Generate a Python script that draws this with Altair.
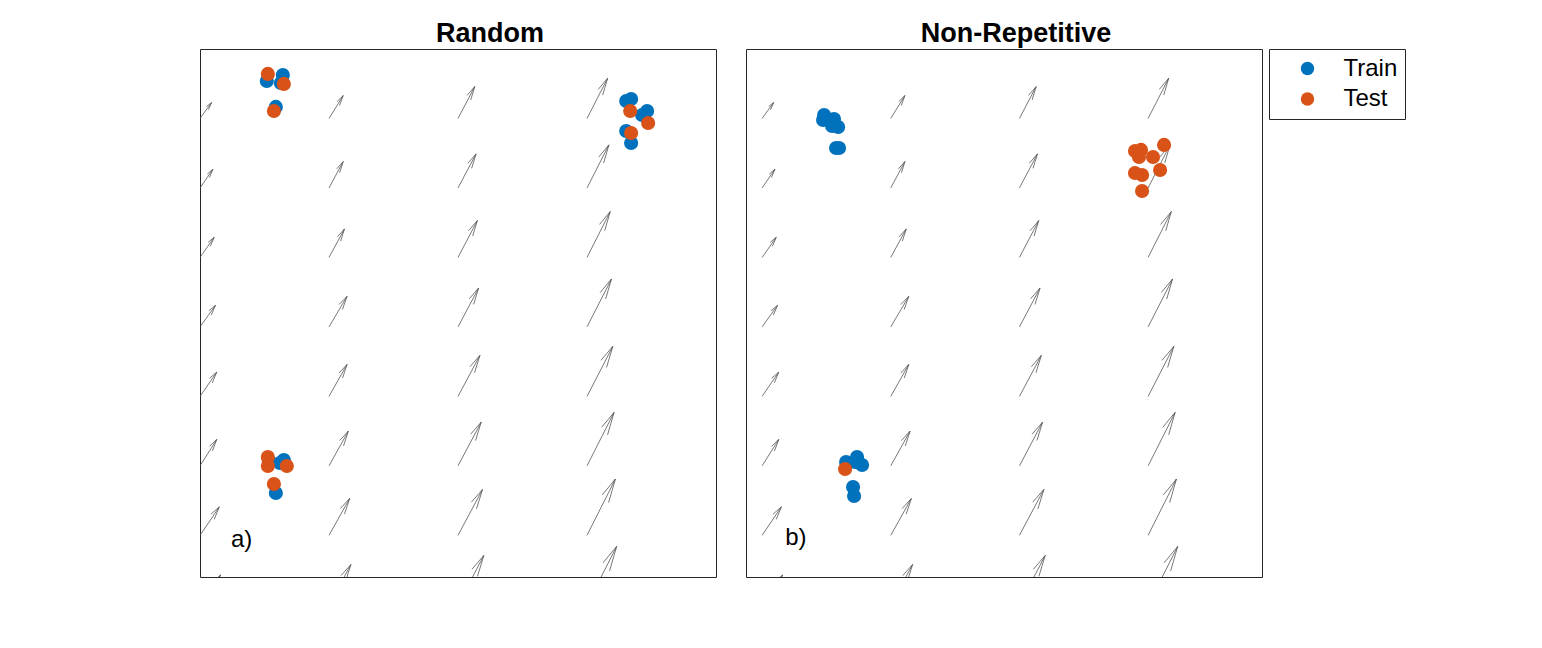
import altair as alt
import pandas as pd

# ---------------- data ----------------
# quiver grid (same vector field in both panels)
QX = [1, 2, 3, 4]
QY = [7, 6, 5, 4, 3, 2, 1, 0]
# U[col][row], V[col][row]; rows ordered as QY
U = [
    [0.09, 0.10, 0.11, 0.12, 0.13, 0.13, 0.15, 0.16],
    [0.11, 0.11, 0.12, 0.14, 0.14, 0.15, 0.16, 0.17],
    [0.13, 0.14, 0.15, 0.16, 0.17, 0.18, 0.19, 0.20],
    [0.16, 0.17, 0.18, 0.19, 0.20, 0.21, 0.22, 0.23],
]
V = [
    [0.23, 0.27, 0.29, 0.31, 0.35, 0.38, 0.41, 0.43],
    [0.33, 0.38, 0.41, 0.44, 0.46, 0.50, 0.53, 0.58],
    [0.46, 0.49, 0.53, 0.56, 0.59, 0.63, 0.66, 0.71],
    [0.58, 0.62, 0.66, 0.69, 0.72, 0.77, 0.81, 0.84],
]

# Panel a) Random
A_TRAIN_X = [1.518, 1.642, 1.627, 1.588, 4.304, 4.342, 4.466, 4.427, 4.304, 4.342, 1.534, 1.650, 1.619, 1.588]
A_TRAIN_Y = [7.540, 7.626, 7.511, 7.166, 7.252, 7.281, 7.108, 7.050, 6.820, 6.647, 2.070, 2.084, 2.041, 1.609]
A_TEST_X = [1.526, 1.650, 1.573, 4.335, 4.474, 4.342, 1.526, 1.526, 1.673, 1.573]
A_TEST_Y = [7.641, 7.497, 7.108, 7.108, 6.935, 6.791, 2.127, 1.998, 1.998, 1.739]

# Panel b) Non-Repetitive
B_TRAIN_X = [1.482, 1.474, 1.559, 1.544, 1.591, 1.575, 1.598, 1.653, 1.738, 1.777, 1.723, 1.707, 1.715]
B_TRAIN_Y = [7.050, 6.978, 6.993, 6.892, 6.878, 6.575, 6.575, 2.055, 2.127, 2.012, 2.055, 1.696, 1.566]
B_TEST_X = [3.898, 3.945, 3.929, 4.038, 4.124, 3.898, 3.953, 4.093, 3.953, 1.645]
B_TEST_Y = [6.532, 6.547, 6.446, 6.446, 6.619, 6.215, 6.187, 6.259, 5.956, 1.955]

SERIES = ["Train", "Test"]
COLORS = ["#0072BD", "#D95319"]

TITLES = ["Random", "Non-Repetitive"]
TITLE_DX = [32, 12]
LABELS = ["a)", "b)"]
LABEL_POS = [(1.24, 0.83), (1.18, 0.86)]

X_DOMAINS = [(1.0, 5.0), (0.875, 4.885)]
Y_DOMAIN = (0.4, 8.0)

W, H = 516, 528
# quiver head shape (fraction of length, spread, aspect skew)
HA, HB, HR = 0.35, 0.25, 0.64

FONT = "Liberation Sans"


def arrows_df(xdom):
    sx = W / (xdom[1] - xdom[0])
    sy = H / (Y_DOMAIN[1] - Y_DOMAIN[0])
    rows = []
    for i, x in enumerate(QX):
        for j, y in enumerate(QY):
            u, v = U[i][j], V[i][j]
            tx, ty = x + u, y + v
            rows.append({"x": x, "y": y, "x2": tx, "y2": ty})
            up, vp = u * sx, v * sy
            for s in (1, -1):
                hx = -HA * (up + s * HB * HR * vp)
                hy = -HA * (vp - s * HB / HR * up)
                rows.append({"x": tx, "y": ty, "x2": tx + hx / sx, "y2": ty + hy / sy})
    return pd.DataFrame(rows)


def points_df(trx, try_, tex, tey):
    d1 = pd.DataFrame({"x": trx, "y": try_, "Set": "Train", "o": 0})
    d2 = pd.DataFrame({"x": tex, "y": tey, "Set": "Test", "o": 1})
    return pd.concat([d1, d2], ignore_index=True)


def panel(idx, pts):
    xdom = X_DOMAINS[idx]
    xs = alt.Scale(domain=list(xdom), nice=False, zero=False)
    ys = alt.Scale(domain=list(Y_DOMAIN), nice=False, zero=False)

    arrows = alt.Chart(arrows_df(xdom)).mark_rule(
        clip=True, color="#555555", strokeWidth=0.8
    ).encode(
        x=alt.X("x:Q", scale=xs, axis=None),
        y=alt.Y("y:Q", scale=ys, axis=None),
        x2="x2:Q",
        y2="y2:Q",
    )

    points = alt.Chart(pts).mark_circle(size=200, opacity=1).encode(
        x=alt.X("x:Q", scale=xs, axis=None),
        y=alt.Y("y:Q", scale=ys, axis=None),
        color=alt.Color(
            "Set:N",
            scale=alt.Scale(domain=SERIES, range=COLORS),
            legend=alt.Legend(title=None),
        ),
        order=alt.Order("o:Q"),
    )

    lx, ly = LABEL_POS[idx]
    label = alt.Chart(pd.DataFrame({"x": [lx], "y": [ly], "t": [LABELS[idx]]})).mark_text(
        align="left", baseline="alphabetic", fontSize=24, font=FONT, color="black"
    ).encode(
        x=alt.X("x:Q", scale=xs, axis=None),
        y=alt.Y("y:Q", scale=ys, axis=None),
        text="t:N",
    )

    return alt.layer(arrows, points, label).properties(
        width=W,
        height=H,
        title=alt.TitleParams(
            TITLES[idx], fontSize=27, fontWeight="bold", font=FONT,
            offset=1.5, anchor="middle", color="black", dx=TITLE_DX[idx],
        ),
    )


pa = panel(0, points_df(A_TRAIN_X, A_TRAIN_Y, A_TEST_X, A_TEST_Y))
pb = panel(1, points_df(B_TRAIN_X, B_TRAIN_Y, B_TEST_X, B_TEST_Y))

chart = (
    alt.hconcat(pa, pb, spacing=28)
    .resolve_scale(x="independent", y="independent", color="shared")
    .properties(padding={"left": 191, "top": 11, "right": 10, "bottom": 10})
    .configure_view(stroke="#262626", strokeWidth=1)
    .configure_legend(
        orient="right",
        offset=6,
        padding=7.5,
        strokeColor="#262626",
        strokeWidth=1,
        fillColor="white",
        symbolType="circle",
        symbolSize=180,
        symbolStrokeWidth=0,
        symbolOffset=19,
        labelOffset=24,
        labelFontSize=24,
        labelFont=FONT,
        labelColor="black",
        rowPadding=6.5,
        cornerRadius=0,
    )
)

chart.save("out.html", embed_options={"renderer": "svg", "actions": False})
